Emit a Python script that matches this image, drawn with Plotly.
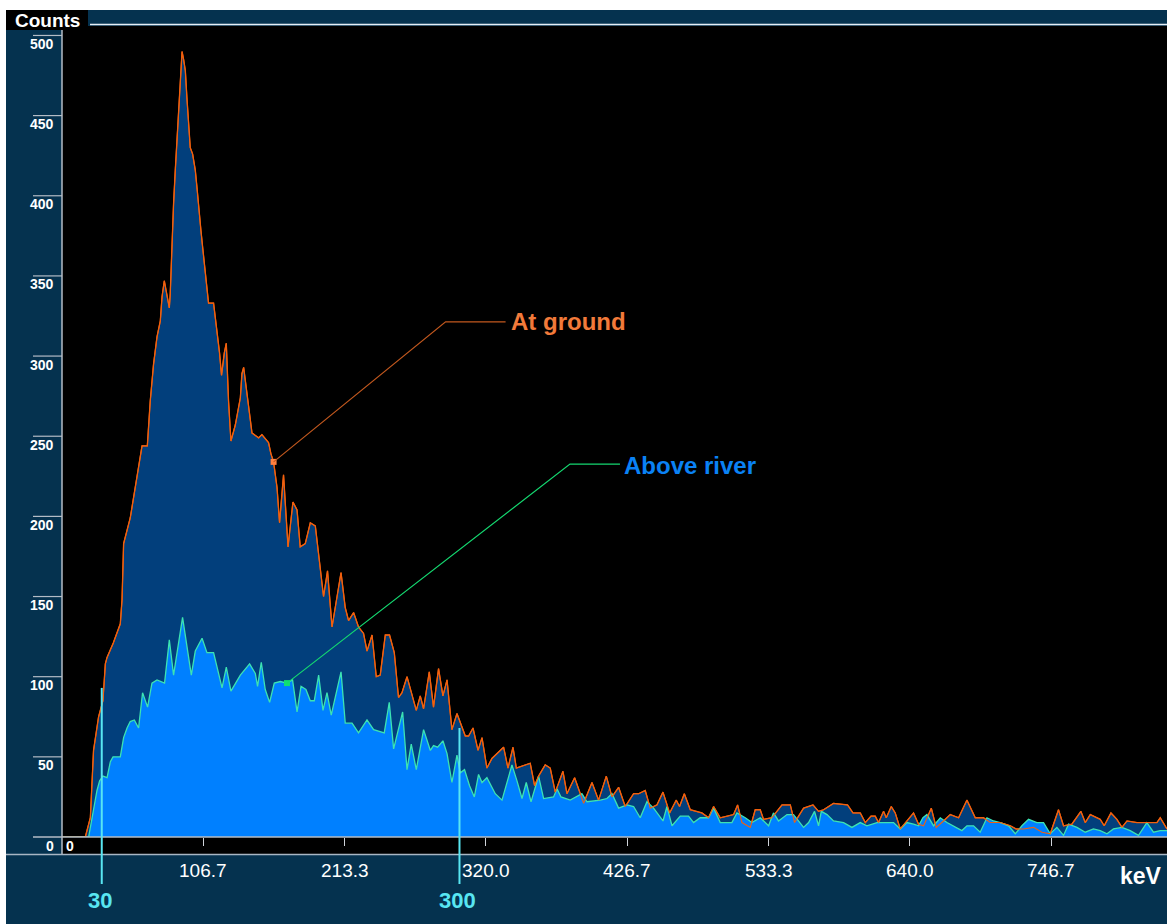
import plotly.graph_objects as go

# ---------------- data ----------------
ground_kev = [0, 17.6, 21.4, 23.8, 27.6, 30.9, 32.7, 34.0, 38.7, 44.0, 45.3, 46.5, 51.5, 57.6, 60.4, 64.4, 66.6,
              69.1, 71.7, 74.2, 75.5, 77.2, 79.2, 81.0, 81.7, 83.0, 84.2, 85.5, 86.8, 88.0, 89.3, 90.6, 91.8, 93.1,
              94.3, 95.5, 96.8, 98.6, 100.6, 101.9, 103.1, 104.9, 106.4, 108.1, 109.4, 110.6, 114.4, 115.7, 117.4,
              118.9, 120.4, 122.5, 124.0, 125.7, 127.5, 130.8, 134.6, 135.8, 137.1, 139.1, 140.8, 143.4, 148.4,
              150.9, 155.9, 157.7, 159.7, 162.3, 164.2, 167.2, 170.6, 174.3, 177.4, 179.8, 183.6, 187.4, 191.2,
              193.7, 197.4, 200.4, 203.8, 210.6, 213.8, 216.3, 220.1, 223.8, 227.6, 230.2, 234.0, 237.2, 240.2,
              244.0, 247.2, 250.8, 254.0, 256.6, 260.4, 267.4, 270.4, 272.9, 277.2, 280.4, 284.2, 287.5, 290.6,
              294.3, 298.1, 304.4, 306.9, 310.2, 314.0, 317.0, 320.7, 324.5, 333.3, 336.6, 340.4, 342.9, 353.4,
              356.7, 359.7, 364.7, 368.5, 372.3, 378.1, 381.1, 386.9, 391.2, 393.7, 400.0, 405.0, 410.8, 415.1,
              420.1, 425.1, 431.4, 435.2, 440.2, 444.0, 449.0, 453.6, 458.6, 463.6, 466.1, 469.7, 474.2, 483.0,
              488.0, 491.8, 496.8, 506.9, 509.9, 513.2, 519.5, 523.2, 527.0, 529.5, 535.8, 543.4, 549.7, 552.9,
              559.7, 566.8, 571.0, 574.8, 582.3, 592.9, 597.0, 602.5, 606.3, 610.6, 613.8, 616.3, 620.1, 622.1,
              625.9, 628.9, 632.7, 637.7, 642.7, 646.5, 650.3, 656.1, 659.8, 665.3, 670.4, 676.7, 683.0, 689.3,
              695.5, 700.6, 708.1, 715.7, 720.2, 725.7, 733.3, 739.6, 745.9, 752.1, 755.9, 762.2, 769.0, 772.3,
              776.1, 783.6, 786.6, 791.7, 796.2, 800.0, 803.8, 811.3, 826.4, 828.9, 834.0]
ground_counts = [0, 0, 12, 54, 75, 85, 108, 112, 121, 133, 148, 183, 199, 231, 244, 244, 272,
                 295, 312, 322, 337, 347, 339, 330, 339, 370, 395, 416, 436, 455, 472, 490, 485, 478,
                 461, 445, 430, 426, 416, 405, 393, 378, 366, 352, 341, 333, 333, 324, 314,
                 302, 288, 302, 308, 272, 247, 257, 274, 289, 293, 279, 268, 252, 249,
                 251, 246, 239, 234, 218, 196, 226, 181, 209, 204, 181, 183, 196, 194,
                 177, 150, 166, 131, 165, 143, 135, 140, 131, 127, 116, 126, 100, 101,
                 126, 126, 115, 87, 90, 100, 79, 88, 80, 103, 81, 105, 88, 98,
                 67, 77, 63, 63, 68, 54, 62, 43, 49, 56, 43, 56, 43, 46,
                 32, 38, 45, 43, 28, 41, 27, 37, 27, 21, 34, 23, 38, 25,
                 31, 19, 27, 27, 29, 18, 20, 28, 15, 23, 19, 27, 17, 15,
                 12, 19, 12, 14, 20, 9, 6, 17, 17, 11, 12, 20, 20, 9,
                 18, 20, 16, 17, 21, 20, 15, 15, 9, 13, 13, 9, 16, 12,
                 19, 15, 5, 10, 15, 8, 7, 18, 6, 10, 14, 12, 23, 12,
                 12, 9, 9, 7, 5, 5, 6, 3, 2, 17, 7, 8, 16, 9,
                 14, 11, 7, 15, 11, 6, 10, 9, 9, 12, 5]

river_kev = [0, 20.1, 23.8, 26.4, 28.4, 30.9, 34.0, 36.5, 38.5, 44.0, 46.5, 49.1, 51.5, 54.6, 57.8, 60.8,
             64.6, 67.9, 71.7, 77.4, 81.0, 84.2, 91.0, 97.6, 100.6, 105.7, 109.4, 114.4, 120.8, 124.0, 127.5,
             134.6, 141.6, 145.9, 147.6, 150.4, 153.4, 156.7, 160.2, 164.8, 169.8, 174.0, 177.4, 180.4, 184.1,
             187.4, 190.4, 193.7, 197.0, 200.0, 203.2, 210.6, 213.8, 218.9, 223.8, 230.2, 235.2, 243.2, 247.0,
             250.3, 257.1, 260.4, 263.6, 267.4, 272.9, 278.0, 280.4, 283.5, 287.5, 290.6, 294.3, 298.1, 300.6,
             303.8, 307.6, 311.2, 314.4, 317.0, 320.7, 327.0, 332.1, 339.6, 343.4, 347.2, 350.4, 354.0, 359.7,
             363.5, 371.0, 373.6, 376.6, 383.6, 392.4, 396.2, 406.3, 411.3, 415.1, 420.1, 426.4, 431.4, 436.4,
             441.5, 446.5, 453.6, 456.6, 460.4, 466.6, 472.9, 476.7, 481.7, 488.0, 491.8, 496.8, 505.6, 509.4,
             515.7, 520.7, 527.0, 533.3, 537.0, 540.8, 547.2, 552.1, 559.7, 563.5, 568.0, 571.0, 573.1, 577.4,
             582.3, 589.9, 596.2, 602.5, 607.5, 615.1, 622.6, 627.6, 632.7, 637.7, 642.7, 646.5, 649.8, 652.8,
             657.8, 662.9, 667.9, 672.9, 679.2, 683.0, 688.0, 693.0, 698.1, 703.1, 708.1, 714.4, 719.5, 724.5,
             729.5, 735.8, 740.8, 745.9, 750.9, 755.9, 759.7, 766.0, 772.3, 778.5, 783.6, 788.7, 793.6, 800.0,
             806.2, 812.5, 818.8, 823.8, 828.9, 834.0]
river_counts = [0, 0, 17, 29, 35, 38, 37, 47, 50, 50, 62, 68, 72, 73, 68, 90,
                81, 96, 98, 96, 123, 101, 137, 101, 116, 124, 115, 115, 93, 106, 91,
                101, 108, 102, 94, 109, 92, 84, 96, 97, 96, 98, 78, 94, 92,
                85, 85, 101, 79, 90, 76, 103, 71, 71, 65, 73, 67, 65, 84,
                55, 78, 42, 58, 42, 67, 54, 57, 56, 60, 52, 34, 51, 40,
                42, 32, 25, 39, 34, 37, 27, 23, 45, 35, 24, 34, 22, 38,
                24, 25, 30, 25, 23, 27, 22, 23, 24, 27, 18, 20, 19, 12,
                22, 18, 10, 19, 7, 13, 13, 9, 12, 12, 18, 9, 9, 15,
                12, 9, 12, 7, 15, 10, 14, 14, 6, 9, 16, 7, 16, 14,
                10, 9, 6, 9, 7, 9, 9, 9, 5, 9, 8, 7, 12, 14,
                7, 12, 9, 7, 4, 7, 7, 3, 12, 10, 9, 7, 2, 7,
                11, 9, 9, 2, 6, 1, 8, 6, 3, 5, 4, 2, 5, 6,
                4, 1, 9, 3, 4, 4]

series_names = ["At ground", "Above river"]
x_tick_vals = [106.7, 213.3, 320.0, 426.7, 533.3, 640.0, 746.7]
x_tick_text = ["106.7", "213.3", "320.0", "426.7", "533.3", "640.0", "746.7"]
y_tick_vals = [0, 50, 100, 150, 200, 250, 300, 350, 400, 450, 500]
marker_kev = [30, 300]
marker_top_counts = [93, 68]
ground_label_idx = 66
river_label_idx = 40

# ---------------- layout geometry ----------------
W, H = 1167, 924
ML, MR, MT, MB = 62, 0, 26, 87
PW, PH = W - ML - MR, H - MT - MB
X_MAX, Y_MAX = 834.0, 505.9

NAVY = "#05324F"
DARK_FILL = "#023F7C"
LIGHT_FILL = "#0080FF"
ORANGE = "#F2600E"
GREEN = "#3CE3B2"
CYAN = "#58E6F2"
AXIS_GRAY = "#B4BCC6"
FONT = "Liberation Sans, Arial, sans-serif"


def px(xp):
    return (xp - ML) / PW


def py(yp):
    return (H - MB - yp) / PH


fig = go.Figure()

fig.add_trace(go.Scatter(x=ground_kev, y=ground_counts, mode="lines", fill="tozeroy",
                         fillcolor=DARK_FILL, line=dict(color=ORANGE, width=1.3),
                         name=series_names[0], hoverinfo="skip"))
fig.add_trace(go.Scatter(x=river_kev, y=river_counts, mode="lines", fill="tozeroy",
                         fillcolor=LIGHT_FILL, line=dict(color=GREEN, width=1.3),
                         name=series_names[1], hoverinfo="skip"))
fig.add_trace(go.Scatter(x=ground_kev, y=ground_counts, mode="lines",
                         line=dict(color=ORANGE, width=1.1), showlegend=False, hoverinfo="skip"))

# callout anchor squares
fig.add_trace(go.Scatter(x=[ground_kev[ground_label_idx]], y=[ground_counts[ground_label_idx]],
                         mode="markers", marker=dict(symbol="square", size=6, color="#FF8040"),
                         hoverinfo="skip"))
fig.add_trace(go.Scatter(x=[river_kev[river_label_idx]], y=[river_counts[river_label_idx]],
                         mode="markers", marker=dict(symbol="square", size=6, color="#10E070"),
                         hoverinfo="skip"))

shapes = []
# white page margins
shapes.append(dict(type="rect", xref="paper", yref="paper", x0=px(0), x1=px(W), y0=py(10), y1=py(0),
                   fillcolor="white", line=dict(width=0), layer="above"))
shapes.append(dict(type="rect", xref="paper", yref="paper", x0=px(0), x1=px(6), y0=py(H), y1=py(0),
                   fillcolor="white", line=dict(width=0), layer="above"))
# "Counts" box
shapes.append(dict(type="rect", xref="paper", yref="paper", x0=px(6), x1=px(88), y0=py(30), y1=py(10),
                   fillcolor="black", line=dict(width=0), layer="above"))
# top rule
shapes.append(dict(type="line", xref="paper", yref="paper", x0=px(90), x1=px(W), y0=py(24.5), y1=py(24.5),
                   line=dict(color="#E6EEF6", width=1.5), layer="above"))
# black strip under x axis
shapes.append(dict(type="rect", xref="paper", yref="paper", x0=0, x1=1, y0=py(854), y1=0,
                   fillcolor="black", line=dict(width=0), layer="below"))
# lower rule
shapes.append(dict(type="line", xref="paper", yref="paper", x0=px(6), x1=1, y0=py(854.5), y1=py(854.5),
                   line=dict(color="#A9B6C4", width=1.5), layer="above"))
# x axis line
shapes.append(dict(type="line", xref="paper", yref="paper", x0=px(33), x1=1, y0=0, y1=0,
                   line=dict(color=AXIS_GRAY, width=1.5), layer="above"))
# y axis line
shapes.append(dict(type="line", xref="paper", yref="paper", x0=0, x1=0, y0=py(854), y1=py(30),
                   line=dict(color=AXIS_GRAY, width=1.5), layer="above"))
# y tick lines
for v in y_tick_vals[1:]:
    shapes.append(dict(type="line", xref="paper", yref="y", x0=px(33), x1=0, y0=v, y1=v,
                       line=dict(color=AXIS_GRAY, width=1.2), layer="above"))
# energy window markers
for k, top in zip(marker_kev, marker_top_counts):
    shapes.append(dict(type="line", xref="x", yref="paper", x0=k, x1=k, y0=py(884), y1=top / Y_MAX,
                       line=dict(color=CYAN, width=2), layer="above"))
# callout leaders (pixel offsets from the data anchor)
shapes.append(dict(type="path", xref="x", yref="y", xsizemode="pixel", ysizemode="pixel",
                   xanchor=ground_kev[ground_label_idx], yanchor=ground_counts[ground_label_idx],
                   path="M0,0 L172,140 L232,140", line=dict(color="#C2581E", width=1.2)))
shapes.append(dict(type="path", xref="x", yref="y", xsizemode="pixel", ysizemode="pixel",
                   xanchor=river_kev[river_label_idx], yanchor=river_counts[river_label_idx],
                   path="M0,0 L283,219 L333,219", line=dict(color="#14D870", width=1.2)))

annotations = []
annotations.append(dict(text="<b>Counts</b>", xref="paper", yref="paper", x=px(47), y=py(20),
                        xanchor="center", yanchor="middle",
                        showarrow=False, font=dict(family=FONT, size=19, color="white")))
for v in y_tick_vals:
    annotations.append(dict(text="<b>%d</b>" % v, xref="paper", yref="y", x=px(56), y=v, yshift=-8.5,
                            xanchor="right", yanchor="middle", showarrow=False,
                            font=dict(family=FONT, size=14, color="white")))
annotations.append(dict(text="<b>0</b>", xref="paper", yref="paper", x=px(64), y=py(846),
                        xanchor="left", yanchor="middle", showarrow=False,
                        font=dict(family=FONT, size=14, color="white")))
for v, t in zip(x_tick_vals, x_tick_text):
    annotations.append(dict(text=t, xref="x", yref="paper", x=v, y=py(870), xanchor="center",
                            yanchor="middle", showarrow=False,
                            font=dict(family=FONT, size=19, color="white")))
annotations.append(dict(text="<b>keV</b>", xref="paper", yref="paper", x=px(1141), y=py(876),
                        xanchor="center", yanchor="middle", showarrow=False,
                        font=dict(family=FONT, size=23, color="white")))
for k in marker_kev:
    annotations.append(dict(text="<b>%d</b>" % k, xref="x", yref="paper", x=k, xshift=-2, y=py(900),
                            xanchor="center", yanchor="middle", showarrow=False,
                            font=dict(family=FONT, size=22, color=CYAN)))
annotations.append(dict(text="<b>" + series_names[0] + "</b>", xref="paper", yref="paper", x=px(509),
                        y=py(321), xanchor="left", yanchor="middle", showarrow=False,
                        font=dict(family=FONT, size=24, color="#F27A3A")))
annotations.append(dict(text="<b>" + series_names[1] + "</b>", xref="paper", yref="paper", x=px(622),
                        y=py(465), xanchor="left", yanchor="middle", showarrow=False,
                        font=dict(family=FONT, size=24, color="#0A82F5")))

fig.update_layout(
    width=W, height=H,
    margin=dict(l=ML, r=MR, t=MT, b=MB, pad=0),
    paper_bgcolor=NAVY, plot_bgcolor="black",
    showlegend=False,
    shapes=shapes, annotations=annotations,
    xaxis=dict(range=[0, X_MAX], showgrid=False, zeroline=False, showline=False,
               tickvals=x_tick_vals, ticks="outside", ticklen=8, tickwidth=1.2, tickcolor="#D0D4DA",
               showticklabels=False, fixedrange=True),
    yaxis=dict(range=[0, Y_MAX], showgrid=False, zeroline=False, showline=False,
               ticks="", showticklabels=False, fixedrange=True),
)

fig.write_html("out.html", config={"displayModeBar": False},
               post_script="document.body.style.margin='0px';document.body.style.overflow='hidden';")
